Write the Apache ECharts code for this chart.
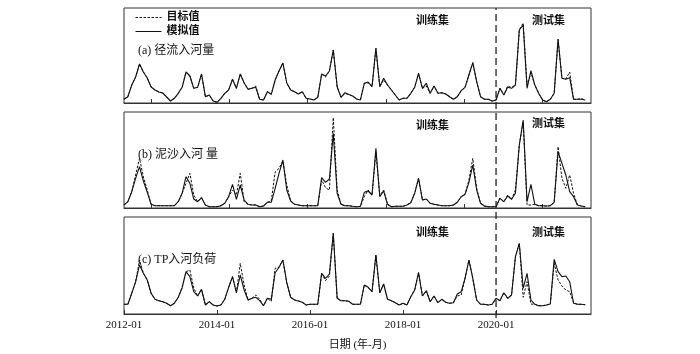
<!DOCTYPE html>
<html>
<head>
<meta charset="utf-8">
<script src="https://cdn.jsdelivr.net/npm/echarts@6/dist/echarts.min.js"></script>
<style>
  html, body { margin: 0; padding: 0; background: #fff; }
  #chart { width: 700px; height: 354px; }
</style>
</head>
<body>
<div id="chart"></div>
<script>
// monthly labels 2012-01 .. 2021-12
const months = []
for (let y = 2012; y <= 2021; y++) {
  for (let m = 1; m <= 12; m++) months.push(y + '-' + (m < 10 ? '0' + m : m))
}
const tickLabels = ['2012-01', '2014-01', '2016-01', '2018-01', '2020-01']
const splitMonth = '2020-01' // 训练集 / 测试集

// (a) 径流入河量
const runoffSim = [3.7, 6.3, 18, 26, 39, 31, 25, 16, 13, 11, 10, 6, 2, 4.7, 9.7, 15.7, 31, 27, 14.7, 15.7,
  29, 6.3, 8, 2, 0.7, 4.7, 9.7, 13, 23.7, 14.7, 29, 20, 13.7, 14.7, 15.7, 3.7, 3, 11.3, 8.7, 23,
  32, 40, 20, 13, 11.3, 9, 11.3, 4.7, 4, 3, 5.7, 29, 27, 32, 53, 16.3, 5.7, 10.3, 8.5, 7,
  4, 3, 19.7, 21, 16.3, 54.7, 16.3, 24.7, 18, 13, 8, 3, 4.7, 4.7, 9.7, 15.7, 29.7, 14.7, 19.7, 9.7,
  17, 9.7, 10.3, 9, 6.3, 3.7, 6.3, 12.3, 15.7, 28, 40.3, 21.3, 6.3, 3.7, 3.7, 2, 3, 14.7, 8, 15.7,
  14.7, 18, 73, 78, 14.7, 32.3, 18, 9.7, 3, 1.3, 3.7, 9.7, 63.7, 24.7, 23.7, 25.3, 3.7, 3.7, 3.7, 3]
const runoffTarget = [3.7, 6.3, 18, 26, 39, 31, 25, 16, 13, 11, 10, 6, 2, 4.7, 9.7, 15.7, 31, 27, 14.7, 15.7,
  29, 6.3, 8, 2, 0.7, 4.7, 9.7, 13, 23.7, 14.7, 29, 20, 13.7, 14.7, 17, 3.7, 3, 11.3, 8.7, 23,
  32, 40, 20, 13, 11.3, 9, 11.3, 4.7, 4, 3, 5.7, 29, 26, 32, 53, 16.3, 5.7, 9.5, 8.5, 7,
  4, 3, 19.7, 20, 16.3, 54.7, 16.3, 23, 18, 13, 8, 3, 4.7, 4.7, 9.7, 15.7, 29.7, 14.7, 17, 9.7,
  17, 9.7, 10.3, 9, 6.3, 3.7, 6.3, 12.3, 15.7, 28, 40.3, 21.3, 6.3, 3.7, 3.7, 2, 3, 14.7, 8, 17,
  15.5, 18, 73, 80, 18, 30, 18, 9.7, 3, 1.3, 3.7, 9.7, 63.7, 24.7, 24, 31, 3.7, 3.7, 4.5, 3]

// (b) 泥沙入河量
const sedimentSim = [3, 6.3, 16.3, 29.7, 41.3, 27, 15.7, 3.7, 2.3, 2.3, 2.3, 2.3, 2.3, 2.3, 6.3, 14.7, 31.3, 24.7, 9, 6.3,
  10.3, 3, 1.3, 1.3, 1.3, 2.3, 4.7, 11.3, 23.7, 8.7, 23, 8, 3.7, 3, 3, 1.3, 2, 5.7, 5.7, 19.7,
  34.7, 48, 18, 7, 3.7, 3, 2.3, 2.3, 2.3, 2.3, 2.3, 30.3, 25.7, 29, 74.7, 14.7, 3.7, 2.3, 2.3, 1.7,
  1.3, 1.7, 15.7, 17, 13, 59.7, 11.3, 17, 3.7, 1.3, 1.7, 1.7, 1.7, 3, 5.3, 14.7, 29.7, 8, 9, 4.7,
  3.7, 3, 2.3, 2.3, 2.3, 3, 5.7, 11.3, 13.7, 25.7, 43, 18, 4.7, 2, 1.3, 1.3, 1.3, 9.7, 6.3, 12,
  8.7, 14.7, 63, 88, 6.3, 23.7, 3.7, 2.3, 2.3, 2, 2.3, 5.7, 56.3, 44.7, 33, 16.3, 11.3, 3, 2, 1.3]
const sedimentTarget = [3, 6.3, 16.3, 33, 49.7, 31, 18, 3.7, 2.3, 2.3, 2.3, 2.3, 2.3, 2.3, 6.3, 14.7, 24.7, 34.7, 13, 6.3,
  10.3, 3, 1.3, 1.3, 1.3, 2.3, 4.7, 11.3, 18, 13, 34.7, 6.3, 3.7, 3, 3, 1.3, 2, 5.7, 7, 36,
  39.7, 47, 23, 7, 3.7, 3, 2.3, 2.3, 2.3, 2.3, 2.3, 28, 20.3, 18, 90.3, 18, 3.7, 2.3, 2.3, 1.7,
  1.3, 1.7, 11.3, 18, 13, 56, 12.5, 18, 3.7, 1.3, 1.7, 1.7, 1.7, 3, 5.3, 14.7, 29.7, 8, 9, 4.7,
  3.7, 3, 2.3, 2.3, 2.3, 3, 5.7, 11.3, 13.7, 28, 49.7, 19.7, 4.7, 2, 1.3, 1.3, 1.3, 9.7, 6.3, 13,
  8.7, 18, 63, 86.3, 3, 3, 3.7, 2.3, 2.3, 2, 2.3, 5.7, 61.3, 29.7, 19.7, 33, 14.7, 3, 2, 1.3]

// (c) TP入河负荷
const tpSim = [9.7, 9.7, 20.7, 32.3, 49, 40.7, 34, 20.7, 14.7, 13.3, 12.3, 10.7, 8.3, 10.7, 16.7, 26.3, 42.3, 37.3, 22.3, 18,
  24.7, 9, 12.3, 9, 8, 9, 14.7, 26.7, 37.3, 21.3, 39, 24, 14, 15.7, 16.7, 13.3, 8.3, 15.7, 14.7, 41.3,
  46.7, 54, 31.3, 16.7, 14, 13, 11.7, 9, 9.7, 9.7, 9.7, 40.7, 35.7, 40, 80.7, 15.7, 13.3, 13.3, 12.7, 9.7,
  9.7, 9.7, 29, 26.7, 22.3, 59, 21.3, 30, 14.7, 13.3, 11.3, 9, 10.7, 9, 17.3, 24, 41.3, 18, 23.3, 12.3,
  18, 11.3, 14.7, 11.7, 10.7, 11.3, 20, 22.3, 35.7, 54, 35.7, 14, 9.7, 9.7, 9, 9.7, 15.7, 13.3, 21.3, 15.7,
  19, 57.3, 70.7, 25.7, 40.7, 14, 9.7, 8.3, 8.3, 9, 10, 54.7, 42.3, 37.3, 38, 32.3, 10.7, 9.7, 9.7, 9.3]
const tpTarget = [9.7, 9.7, 20.7, 32.3, 54, 40.7, 34, 20.7, 14.7, 13.3, 12.3, 10.7, 8.3, 10.7, 16.7, 26.3, 42.3, 44, 26, 18,
  24.7, 9, 12.3, 9, 8, 9, 14.7, 26.7, 37.3, 21.3, 50.7, 29, 14, 15.7, 19, 14.7, 8.3, 15.7, 12.5, 45.7,
  46.7, 54, 31.3, 16.7, 14, 13, 11.7, 9, 9.7, 9.7, 9.7, 40.7, 33.3, 38, 80.7, 15.7, 13.3, 13.3, 12.7, 9.7,
  9.7, 9.7, 29, 26.7, 22.3, 59, 21.3, 30, 14.7, 13.3, 11.3, 9, 10.7, 9, 17.3, 24, 41.3, 18, 23.3, 12.3,
  18, 11.3, 14.7, 11.7, 10.7, 11.3, 18, 19, 35.7, 54, 35.7, 14, 9.7, 9.7, 9, 9.7, 15.7, 13.3, 21.3, 15.7,
  19, 57.3, 70.7, 16.7, 32.3, 10, 9.7, 8.3, 8.3, 9, 10, 50.7, 34, 28, 24, 22.3, 11.5, 9.7, 9.7, 9.3]

const serif = "'Liberation Serif', 'Noto Sans CJK SC', serif"
const cjk = "'Liberation Serif', 'Noto Sans CJK SC', sans-serif"

const panels = [
  { top: 8, height: 95, label: '(a) 径流入河量', sim: runoffSim, target: runoffTarget },
  { top: 112, height: 96, label: '(b) 泥沙入河 量', sim: sedimentSim, target: sedimentTarget },
  { top: 217, height: 97, label: '(c) TP入河负荷', sim: tpSim, target: tpTarget }
]

const xMax = 120.5
const splitIdx = months.indexOf(splitMonth)
const majorTicks = tickLabels.map(t => months.indexOf(t))
const innerTicks = [7, 27.2, 47.4, 67.6, 87.8, 108]

const toPairs = arr => arr.map((v, i) => [i, v])

const chart = echarts.init(document.getElementById('chart'))

const grid = panels.map(p => ({
  left: 124, width: 467, top: p.top, height: p.height,
  show: true, borderColor: '#333', borderWidth: 1
}))
grid.push({ left: 124, width: 467, top: 8, height: 310, show: false })

const xAxis = panels.map((p, k) => {
  const last = k === panels.length - 1
  return {
    type: 'value',
    gridIndex: k,
    min: 0,
    max: xMax,
    axisLine: { show: true, lineStyle: { color: '#333', width: 1 } },
    axisTick: {
      show: true, inside: true, length: 4,
      lineStyle: { color: '#333' },
      customValues: last ? majorTicks : innerTicks
    },
    axisLabel: {
      show: last,
      customValues: majorTicks,
      margin: 6,
      color: '#111',
      fontFamily: serif,
      fontSize: 11,
      formatter: v => months[Math.round(v)]
    },
    splitLine: { show: false },
    name: last ? '日期 (年-月)' : '',
    nameLocation: 'middle',
    nameGap: 26,
    nameTextStyle: { color: '#111', fontFamily: cjk, fontSize: 11 }
  }
})
xAxis.push({ type: 'value', gridIndex: 3, min: 0, max: xMax, show: false })

const yAxis = panels.map((p, k) => ({
  type: 'value', gridIndex: k, min: 0, max: p.height, show: false
}))
yAxis.push({ type: 'value', gridIndex: 3, min: 0, max: 1, show: false })

const series = []
panels.forEach((p, k) => {
  series.push({
    name: '目标值',
    type: 'line',
    xAxisIndex: k,
    yAxisIndex: k,
    data: toPairs(p.target),
    symbol: 'none',
    itemStyle: { color: '#111' },
    lineStyle: { color: '#111', width: 1, type: [2.5, 1.5] },
    z: 2
  })
  series.push({
    name: '模拟值',
    type: 'line',
    xAxisIndex: k,
    yAxisIndex: k,
    data: toPairs(p.sim),
    symbol: 'none',
    itemStyle: { color: '#111' },
    lineStyle: { color: '#111', width: 1.1 },
    z: 3
  })
})
// 训练集/测试集 分界线
series.push({
  type: 'line',
  xAxisIndex: 3,
  yAxisIndex: 3,
  data: [[splitIdx, 0], [splitIdx, 1]],
  symbol: 'none',
  silent: true,
  lineStyle: { color: '#222', width: 1.3, type: [7, 4] },
  z: 4
})

const setLabels = [
  { text: '训练集', left: 411, top: [11, 116, 223] },
  { text: '测试集', left: 527, top: [11, 114, 223] }
]

const title = panels.map(p => ({
  text: p.label,
  left: 133,
  top: p.top + 32,
  textStyle: { fontFamily: cjk, fontSize: 12, fontWeight: 'normal', color: '#111' }
}))
setLabels.forEach(s => {
  s.top.forEach(t => {
    title.push({
      text: s.text,
      left: s.left,
      top: t,
      textStyle: { fontFamily: cjk, fontSize: 11, fontWeight: 'bold', color: '#111' }
    })
  })
})

chart.setOption({
  animation: false,
  backgroundColor: '#fff',
  title,
  legend: {
    data: ['目标值', '模拟值'],
    orient: 'vertical',
    left: 135,
    top: 12,
    itemWidth: 26,
    itemHeight: 12,
    itemGap: 3,
    padding: 0,
    itemStyle: { opacity: 0 },
    lineStyle: { width: 1 },
    textStyle: { fontFamily: cjk, fontSize: 11, fontWeight: 'bold', color: '#111' }
  },
  grid,
  xAxis,
  yAxis,
  series
})
</script>
</body>
</html>
